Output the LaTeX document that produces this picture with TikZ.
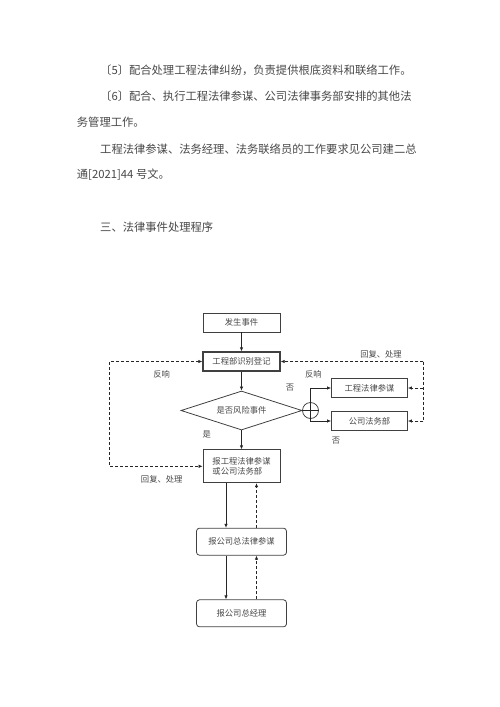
\documentclass[tikz,border=0pt]{standalone}
\usepackage{fontspec}
\setmainfont{Noto Sans CJK SC}
\usetikzlibrary{shapes.geometric,arrows.meta,positioning}
\tikzset{
  para/.style={anchor=west,inner sep=0pt,font=\fontsize{11.3}{13}\selectfont,text=black!72},
  lbl/.style={inner sep=0pt,font=\fontsize{8.3}{10}\selectfont,text=black!72},
  stepbox/.style={draw=black!75,line width=0.8pt,minimum width=77pt,minimum height=19pt,inner sep=1pt,lbl},
  roundbox/.style={stepbox,rounded corners=3pt,minimum width=90pt,minimum height=27pt},
  flow/.style={-{Latex[length=4pt,width=3.5pt]},line width=0.7pt,black!85},
  back/.style={flow,dash pattern=on 3pt off 2pt}
}
\begin{document}
\begin{tikzpicture}[x=1pt,y=-1pt]
\useasboundingbox (0,0) rectangle (500,707);
% text above the chart
\node[para] (p1) at (100,70.7) {〔5〕配合处理工程法律纠纷，负责提供根底资料和联络工作。};
\node[para] (p2) at (100,96.7) {〔6〕配合、执行工程法律参谋、公司法律事务部安排的其他法};
\node[para] (p3) at (76.7,121.7) {务管理工作。};
\node[para] (p4) at (100,149.3) {工程法律参谋、法务经理、法务联络员的工作要求见公司建二总};
\node[para] (p5) at (76.7,175) {通[2021]44 号文。};
\node[para] (p6) at (100,226.7) {三、法律事件处理程序};
% chart
\node[stepbox] (event) at (241.5,322.5) {发生事件};
\node[stepbox,line width=1.2pt] (register) at (241.5,361.5) {工程部识别登记};
\node[diamond,aspect=3,draw=black!75,line width=0.8pt,minimum width=121pt,minimum height=39pt,lbl] (risk) at (241.5,410.5) {是否风险事件};
\node[circle,draw=black!80,line width=0.7pt,minimum size=16pt,inner sep=0pt] (junction) at (310.5,410.5) {};
\node[stepbox,minimum width=76pt] (advisor) at (369.5,388) {工程法律参谋};
\node[stepbox,minimum width=76pt] (legal) at (369.5,421) {公司法务部};
\node[stepbox,minimum height=33pt,align=left] (report) at (241.5,466.3) {报工程法律参谋\\或公司法务部};
\node[roundbox] (chief) at (241.5,541.7) {报公司总法律参谋};
\node[roundbox] (manager) at (241.5,613.3) {报公司总经理};
\coordinate (rtop) at (423.3,361.5);
\coordinate (rbot) at (423.3,421);
\coordinate (lturn) at (109.3,361.5);
\draw[flow] (event) -- (register);
\draw[flow] (register) -- (risk);
\draw[flow] (risk) -- (report);
\draw[line width=0.7pt,black!85] (risk.east) -- (junction.east) (junction.north) -- (junction.south);
\draw[flow] (junction.north) |- (advisor.west);
\draw[flow] (junction.south) |- (legal.west);
\draw[back] (rtop) -- (register.east);
\draw[back,-] (rtop) -- (rbot);
\draw[back] (rtop |- advisor) -- (advisor.east);
\draw[back] (rbot) -- (legal.east);
\draw[back,{Latex[length=4pt,width=3.5pt]}-{Latex[length=4pt,width=3.5pt]}] (register.west) -- (lturn) |- (report.west);
\draw[flow] ([xshift=-15.5pt]report.south) -- ([xshift=-15.5pt]chief.north);
\draw[back] ([xshift=15pt]chief.north) -- ([xshift=15pt]report.south);
\draw[flow] ([xshift=-15.5pt]chief.south) -- ([xshift=-15.5pt]manager.north);
\draw[back] ([xshift=15pt]manager.north) -- ([xshift=15pt]chief.south);
% labels
\node[lbl] (replyR) at (381,354) {回复、处理};
\node[lbl] (echoR) at (313.3,374) {反响};
\node[lbl] (noA) at (290,388) {否};
\node[lbl] (noB) at (336,440.7) {否};
\node[lbl] (yes) at (206.7,435) {是};
\node[lbl] (echoL) at (161.7,374) {反响};
\node[lbl] (replyL) at (161.7,479) {回复、处理};
\end{tikzpicture}
\end{document}
